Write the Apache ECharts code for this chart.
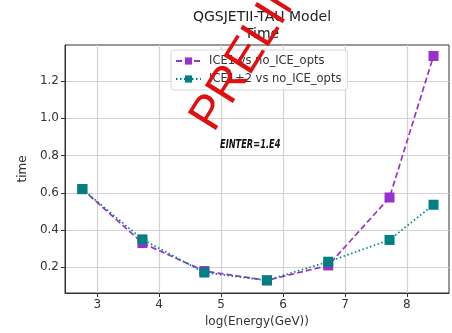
<!DOCTYPE html>
<html>
<head>
<meta charset="utf-8">
<script src="https://cdn.jsdelivr.net/npm/echarts@6/dist/echarts.min.js"></script>
<style>
  html, body { margin: 0; padding: 0; background: #fff; }
  #main { width: 452px; height: 333px; }
</style>
</head>
<body>
<div id="main"></div>
<script>
// log(Energy(GeV)) positions
const energies = [2.76, 3.73, 4.73, 5.74, 6.73, 7.72, 8.43];
const ice1Times = [0.62, 0.33, 0.18, 0.13, 0.21, 0.575, 1.335];
const ice12Times = [0.62, 0.35, 0.172, 0.13, 0.23, 0.347, 0.536];
const xTicks = [3, 4, 5, 6, 7, 8];
const yTicks = [0.2, 0.4, 0.6, 0.8, 1.0, 1.2];

const font = 'DejaVu Sans';
const chart = echarts.init(document.getElementById('main'));

const pairs = arr => energies.map((e, i) => [e, arr[i]]);

const option = {
  animation: false,
  backgroundColor: '#fff',
  textStyle: { fontFamily: font },
  title: {
    text: 'QGSJETII-TAU Model\nTime',
    left: 257,
    textAlign: 'center',
    top: 4,
    textStyle: { fontFamily: font, fontSize: 14, fontWeight: 'normal', color: '#222', lineHeight: 17 }
  },
  grid: {
    left: 65, right: 3, top: 45, bottom: 36,
    show: true, borderColor: '#333', borderWidth: 1
  },
  legend: {
    orient: 'vertical',
    left: 171, top: 50,
    itemWidth: 25, itemHeight: 9, itemGap: 6,
    padding: [5, 6, 5, 4],
    borderColor: '#d8d8d8', borderWidth: 1, borderRadius: 3,
    backgroundColor: 'rgba(255,255,255,0.85)',
    textStyle: { fontFamily: font, fontSize: 11.5, color: '#333', padding: [0, 0, 0, 3] },
    data: ['ICE1 vs no_ICE_opts', 'ICE1+2 vs no_ICE_opts']
  },
  xAxis: {
    type: 'value',
    min: 2.48, max: 8.68,
    name: 'log(Energy(GeV))',
    nameLocation: 'middle', nameGap: 23,
    nameTextStyle: { fontFamily: font, fontSize: 12, color: '#333' },
    axisLine: { show: true, lineStyle: { color: '#333' } },
    axisTick: { show: true, customValues: xTicks, length: 4, lineStyle: { color: '#333' } },
    axisLabel: { customValues: xTicks, fontFamily: font, fontSize: 12, color: '#333', margin: 6 },
    splitLine: { show: true, customValues: xTicks, lineStyle: { color: '#d2d2d2', width: 1.2 } }
  },
  yAxis: {
    type: 'value',
    min: 0.062, max: 1.394,
    name: 'time',
    nameLocation: 'middle', nameGap: 33,
    nameTextStyle: { fontFamily: font, fontSize: 12, color: '#333' },
    axisLine: { show: true, lineStyle: { color: '#333' } },
    axisTick: { show: true, customValues: yTicks, length: 4, lineStyle: { color: '#333' } },
    axisLabel: {
      customValues: yTicks, fontFamily: font, fontSize: 12, color: '#333', margin: 6,
      formatter: v => v.toFixed(1)
    },
    splitLine: { show: true, customValues: yTicks, lineStyle: { color: '#d2d2d2', width: 1.2 } }
  },
  series: [
    {
      name: 'ICE1 vs no_ICE_opts',
      type: 'line',
      data: pairs(ice1Times),
      symbol: 'rect', symbolSize: 10,
      color: '#9932cc',
      lineStyle: { width: 1.7, type: [6, 3], color: '#9932cc' },
      itemStyle: { color: '#9932cc' },
      z: 3
    },
    {
      name: 'ICE1+2 vs no_ICE_opts',
      type: 'line',
      data: pairs(ice12Times),
      symbol: 'rect', symbolSize: 10,
      color: '#008080',
      lineStyle: { width: 1.7, type: [1.5, 2.5], color: '#008080' },
      itemStyle: { color: '#008080' },
      z: 4
    }
  ],
  graphic: [
    {
      type: 'text',
      x: 220, y: 138,
      scaleX: 0.66,
      style: { text: 'EINTER=1.E4', font: 'italic bold 12.5px "DejaVu Sans"', fill: '#111' },
      z: 10
    },
    {
      type: 'text',
      x: 223, y: 139,
      rotation: 58 * Math.PI / 180,
      style: {
        text: 'PRELIMINARY',
        font: '48px "Liberation Sans"',
        fill: '#e01010',
        textVerticalAlign: 'bottom'
      },
      z: 20
    }
  ]
};

chart.setOption(option);
</script>
</body>
</html>
